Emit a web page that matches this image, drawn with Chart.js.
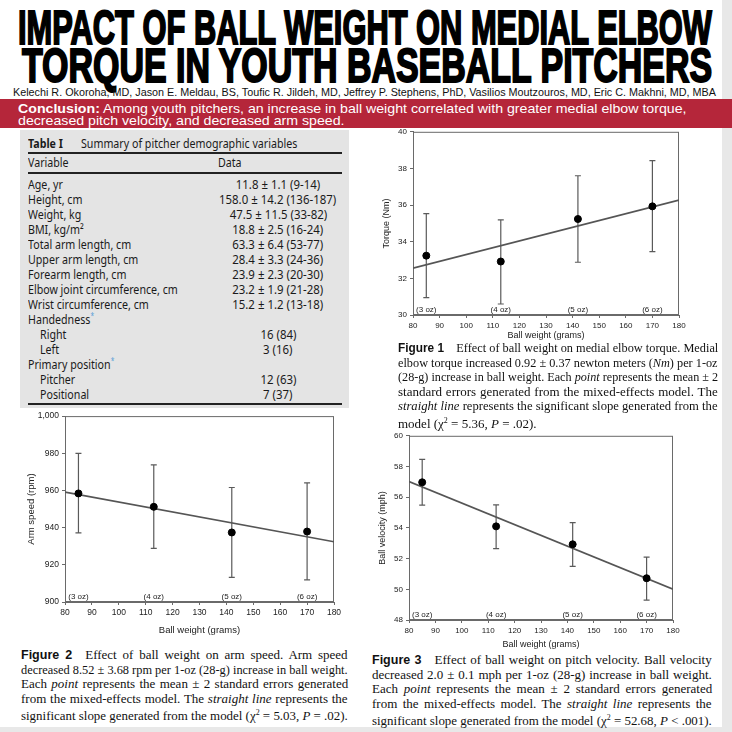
<!DOCTYPE html>
<html>
<head>
<meta charset="utf-8">
<script src="https://cdn.jsdelivr.net/npm/chart.js@4.4.0/dist/chart.umd.min.js"></script>
<style>
html, body { margin: 0; padding: 0; background: #fff; }
#page { position: relative; width: 732px; height: 732px; overflow: hidden; background: #fff; font-family: 'Liberation Sans', Arial, sans-serif; color: #111; }
.abs { position: absolute; white-space: nowrap; }
.fit { display: inline-block; white-space: nowrap; transform-origin: 0 50%; }
.title { font-family: 'Liberation Sans Narrow', 'Liberation Sans', sans-serif; font-weight: bold; font-size: 48px; line-height: 48px; color: #000; -webkit-text-stroke: 2px #000; }
.cap { font-family: 'Liberation Serif', 'Times New Roman', serif; font-size: 13px; line-height: 14px; color: #111; }
.cap b.fig { font-family: 'Liberation Sans', sans-serif; font-size: 12.5px; margin-right: 13px; }
.tbl { font-family: 'Noto Sans', sans-serif; font-size: 13px; line-height: 15px; color: #1a1a1a; }
.star { position: relative; top: -5px; color: #5aa0d8; font-size: 8px; }
.rule { position: absolute; background: #222; height: 2px; }
.chartbox { position: absolute; }
</style>
</head>
<body>
<div id="page">
  <div class="abs" style="left:722px;top:0;width:10px;height:732px;background:#e8e8e8"></div>
  <div class="abs" style="left:0;top:727px;width:732px;height:5px;background:#e8e8e8"></div>

  <div class="abs title" style="left:18px;top:4px"><span class="fit" data-w="694" data-m="scale">IMPACT OF BALL WEIGHT ON MEDIAL ELBOW</span></div>
  <div class="abs title" style="left:22px;top:42px"><span class="fit" data-w="690" data-m="scale">TORQUE IN YOUTH BASEBALL PITCHERS</span></div>
  <div class="abs" style="left:13px;top:86px;font-size:11px;line-height:12px"><span class="fit" data-w="703" data-m="scale">Kelechi R. Okoroha, MD, Jason E. Meldau, BS, Toufic R. Jildeh, MD, Jeffrey P. Stephens, PhD, Vasilios Moutzouros, MD, Eric C. Makhni, MD, MBA</span></div>

  <div class="abs" style="left:0;top:99px;width:732px;height:29px;background:#b5263a"></div>
  <div class="abs" style="left:18px;top:101.5px;font-size:13px;line-height:13px;color:#fff"><span class="fit" id="concl1" data-w="668" data-m="scale"><b>Conclusion:</b> Among youth pitchers, an increase in ball weight correlated with greater medial elbow torque,</span></div>
  <div class="abs" style="left:18px;top:113.5px;font-size:13px;line-height:13px;color:#fff"><span class="fit" id="concl2">decreased pitch velocity, and decreased arm speed.</span></div>

  <div class="abs" style="left:20px;top:130px;width:329px;height:278px;background:#e4e4e4"></div>
  <div id="table"></div>

  <div class="chartbox" style="left:370px;top:124px;width:330px;height:218px"><canvas id="fig1"></canvas></div>
  <div class="chartbox" style="left:8px;top:408px;width:345px;height:232px"><canvas id="fig2"></canvas></div>
  <div class="chartbox" style="left:364px;top:428px;width:330px;height:222px"><canvas id="fig3"></canvas></div>

  <div id="captions"></div>
</div>

<script>
// ball weights (grams) of the four balls and their labels
const ballWeights = [85, 113, 142, 170];
const ozLabels = ['(3 oz)', '(4 oz)', '(5 oz)', '(6 oz)'];
const fitX = [80, 180];

// Figure 1 - medial elbow torque (Nm)
const torqueMean = [33.24, 32.92, 35.24, 35.93];
const torqueLow = [30.95, 30.6, 32.88, 33.46];
const torqueHigh = [35.53, 35.19, 37.6, 38.43];
const torqueFit = [32.56, 36.27];

// Figure 2 - arm speed (rpm)
const armMean = [958.4, 951.2, 937.4, 937.9];
const armLow = [937.2, 928.8, 913.2, 911.9];
const armHigh = [979.9, 973.8, 961.6, 964.1];
const armFit = [959.1, 932.4];

// Figure 3 - ball velocity (mph)
const velMean = [56.97, 54.1, 52.93, 50.72];
const velLow = [55.48, 52.65, 51.5, 49.3];
const velHigh = [58.46, 55.5, 54.34, 52.1];
const velFit = [57.02, 50.01];

// Table I
const tableVariables = ['Age, yr', 'Height, cm', 'Weight, kg', 'BMI, kg/m²', 'Total arm length, cm',
  'Upper arm length, cm', 'Forearm length, cm', 'Elbow joint circumference, cm', 'Wrist circumference, cm',
  'Handedness*', 'Right', 'Left', 'Primary position*', 'Pitcher', 'Positional'];
const tableValues = ['11.8 ± 1.1 (9-14)', '158.0 ± 14.2 (136-187)', '47.5 ± 11.5 (33-82)', '18.8 ± 2.5 (16-24)',
  '63.3 ± 6.4 (53-77)', '28.4 ± 3.3 (24-36)', '23.9 ± 2.3 (20-30)', '23.2 ± 1.9 (21-28)', '15.2 ± 1.2 (13-18)',
  '', '16 (84)', '3 (16)', '', '12 (63)', '7 (37)'];
const tableIndent = [0, 0, 0, 0, 0, 0, 0, 0, 0, 0, 1, 1, 0, 1, 1];

function buildTable() {
  const t = document.getElementById('table');
  let html = '';
  const text = (x, cy, inner, align, sx) => {
    const origin = align === 'center' ? '50% 50%' : '0 50%';
    const pos = align === 'center' ? `left:${x - 100}px;width:200px;text-align:center;` : `left:${x}px;`;
    return `<div class="abs tbl" style="${pos}top:${cy - 7.5}px;">` +
      `<span style="display:inline-block;transform:scaleX(${sx});transform-origin:${origin}">${inner}</span></div>`;
  };
  html += text(28, 143, '<b>Table I</b>', 'left', 0.82);
  html += text(81, 143, 'Summary of pitcher demographic variables', 'left', 0.82);
  html += '<div class="rule" style="left:28px;top:152px;width:314px"></div>';
  html += text(28, 162, 'Variable', 'left', 0.82);
  html += text(218, 162, 'Data', 'left', 0.82);
  html += '<div class="rule" style="left:28px;top:172px;width:314px"></div>';
  tableVariables.forEach((v, i) => {
    const cy = 184 + i * 15;
    const label = v.replace('*', '<span class="star">*</span>');
    html += text(tableIndent[i] ? 40 : 28, cy, label, 'left', 0.82);
    if (tableValues[i]) html += text(278, cy, tableValues[i].replace(/ ± /, '&nbsp;± '), 'center', 0.88);
  });
  html += '<div class="rule" style="left:28px;top:403px;width:314px"></div>';
  t.innerHTML = html;
}

const captionLines = [
  { left: 398, width: 320, top: 348, lines: [
    '<b class="fig">Figure 1</b>Effect of ball weight on medial elbow torque. Medial',
    'elbow torque increased 0.92 ± 0.37 newton meters (<i>Nm</i>) per 1-oz',
    '(28-g) increase in ball weight. Each <i>point</i> represents the mean ± 2',
    'standard errors generated from the mixed-effects model. The',
    '<i>straight line</i> represents the significant slope generated from the',
    'model (χ<sup style="font-size:8px">2</sup> = 5.36, <i>P</i> = .02).'] },
  { left: 21, width: 327, top: 655, lines: [
    '<b class="fig">Figure 2</b>Effect of ball weight on arm speed. Arm speed',
    'decreased 8.52 ± 3.68 rpm per 1-oz (28-g) increase in ball weight.',
    'Each <i>point</i> represents the mean ± 2 standard errors generated',
    'from the mixed-effects model. The <i>straight line</i> represents the',
    'significant slope generated from the model (χ<sup style="font-size:8px">2</sup> = 5.03, <i>P</i> = .02).'] },
  { left: 372, width: 340, top: 660, lines: [
    '<b class="fig">Figure 3</b>Effect of ball weight on pitch velocity. Ball velocity',
    'decreased 2.0 ± 0.1 mph per 1-oz (28-g) increase in ball weight.',
    'Each <i>point</i> represents the mean ± 2 standard errors generated',
    'from the mixed-effects model. The <i>straight line</i> represents the',
    'significant slope generated from the model (χ<sup style="font-size:8px">2</sup> = 52.68, <i>P</i> &lt; .001).'] }
];

function buildCaptions() {
  let html = '';
  captionLines.forEach(c => {
    c.lines.forEach((l, i) => {
      const mode = i === 5 ? 'none' : 'justify';
      html += `<div class="abs cap" style="left:${c.left}px;top:${c.top + i * 14.5 - 7}px">` +
        `<span class="fit" data-w="${c.width}" data-m="${mode}">${l}</span></div>`;
    });
  });
  document.getElementById('captions').innerHTML = html;
}

function fit(el) {
  const target = parseFloat(el.dataset.w);
  if (!target) return 1;
  const w = el.offsetWidth;
  const mode = el.dataset.m || 'none';
  if (mode === 'scale' || w > target) {
    el.style.transform = `scaleX(${target / w})`;
    return target / w;
  }
  if (mode === 'justify') {
    const spaces = (el.textContent.match(/ /g) || []).length;
    if (spaces) el.style.wordSpacing = ((target - w) / spaces) + 'px';
  }
  return 1;
}

const extras = {
  id: 'extras',
  beforeDatasetsDraw(chart) {
    const { ctx, chartArea: a, scales: { x, y } } = chart;
    ctx.save();
    ctx.strokeStyle = '#6a6a6a';
    ctx.lineWidth = 1;
    ctx.strokeRect(a.left + 0.5, a.top + 0.5, a.right - a.left - 1, a.bottom - a.top - 1);
    ctx.font = '8px "Liberation Sans"';
    ctx.fillStyle = '#222';
    ctx.textAlign = 'center';
    ctx.textBaseline = 'bottom';
    ballWeights.forEach((w, i) => ctx.fillText(ozLabels[i], x.getPixelForValue(w), a.bottom - 1));
    chart.data.datasets.forEach(ds => {
      if (!ds.errLow) return;
      ctx.strokeStyle = '#5a5a5a';
      ctx.lineWidth = 1.2;
      ds.data.forEach((p, i) => {
        const px = x.getPixelForValue(p.x);
        const lo = y.getPixelForValue(ds.errLow[i]);
        const hi = y.getPixelForValue(ds.errHigh[i]);
        ctx.beginPath();
        ctx.moveTo(px, lo); ctx.lineTo(px, hi);
        ctx.moveTo(px - 3, lo); ctx.lineTo(px + 3, lo);
        ctx.moveTo(px - 3, hi); ctx.lineTo(px + 3, hi);
        ctx.stroke();
      });
    });
    ctx.restore();
  }
};

function makeChart(id, o) {
  const tickFont = { family: 'Liberation Sans', size: o.tickSize };
  return new Chart(document.getElementById(id), {
    type: 'scatter',
    data: {
      datasets: [{
        data: ballWeights.map((w, i) => ({ x: w, y: o.mean[i] })),
        errLow: o.low,
        errHigh: o.high,
        pointRadius: 3.5,
        pointBackgroundColor: '#000',
        pointBorderColor: '#000',
        order: 0
      }, {
        type: 'line',
        data: fitX.map((w, i) => ({ x: w, y: o.fit[i] })),
        borderColor: '#555',
        borderWidth: 1.6,
        pointRadius: 0,
        fill: false,
        order: 1
      }]
    },
    options: {
      responsive: true,
      maintainAspectRatio: false,
      animation: false,
      layout: { padding: { top: o.padTop, right: o.padRight, bottom: 0, left: 0 } },
      plugins: { legend: { display: false }, tooltip: { enabled: false } },
      scales: {
        x: {
          type: 'linear', min: 80, max: 180,
          ticks: { stepSize: 10, font: tickFont, color: '#222', padding: 3, maxRotation: 0 },
          grid: { drawOnChartArea: false, tickLength: 3, color: '#6a6a6a' },
          border: { color: '#6a6a6a' },
          title: { display: true, text: 'Ball weight (grams)', font: { family: 'Liberation Sans', size: o.titleSize }, color: '#222', padding: { top: 0, bottom: o.xTitlePad } },
          afterFit: s => { s.height = o.xH; }
        },
        y: {
          min: o.yMin, max: o.yMax,
          ticks: { stepSize: o.yStep, font: tickFont, color: '#222', padding: 3 },
          grid: { drawOnChartArea: false, tickLength: 3, color: '#6a6a6a' },
          border: { color: '#6a6a6a' },
          title: { display: true, text: o.yTitle, font: { family: 'Liberation Sans', size: o.titleSize }, color: '#222', padding: { top: o.yTitlePad, bottom: 0 } },
          afterFit: s => { s.width = o.yW; }
        }
      }
    },
    plugins: [extras]
  });
}

function drawAll() {
  buildTable();
  buildCaptions();
  document.querySelectorAll('.fit').forEach(el => {
    if (el.id === 'concl2') return;
    const s = fit(el);
    if (el.id === 'concl1') document.getElementById('concl2').style.transform = `scaleX(${s})`;
  });

  makeChart('fig1', { mean: torqueMean, low: torqueLow, high: torqueHigh, fit: torqueFit,
    yMin: 30, yMax: 40, yStep: 2, yTitle: 'Torque (Nm)', yW: 43, xH: 27, padTop: 6, padRight: 21,
    yTitlePad: 11, xTitlePad: 1, tickSize: 8, titleSize: 9 });
  makeChart('fig2', { mean: armMean, low: armLow, high: armHigh, fit: armFit,
    yMin: 900, yMax: 1000, yStep: 20, yTitle: 'Arm speed (rpm)', yW: 57, xH: 38, padTop: 6, padRight: 19,
    yTitlePad: 18, xTitlePad: 4, tickSize: 8.5, titleSize: 9.5 });
  makeChart('fig3', { mean: velMean, low: velLow, high: velHigh, fit: velFit,
    yMin: 48, yMax: 60, yStep: 2, yTitle: 'Ball velocity (mph)', yW: 45, xH: 30, padTop: 7, padRight: 21,
    yTitlePad: 13, xTitlePad: 0, tickSize: 8, titleSize: 9 });
}

if (document.fonts && document.fonts.ready) document.fonts.ready.then(drawAll); else drawAll();
</script>
</body>
</html>
